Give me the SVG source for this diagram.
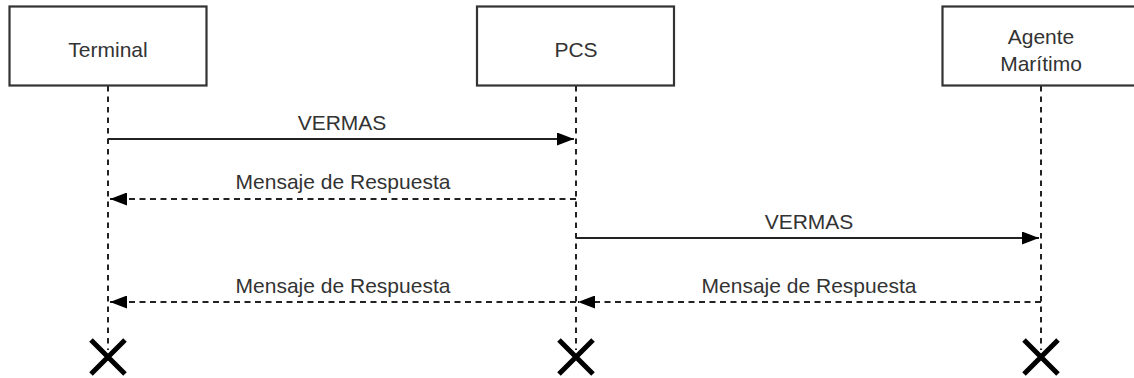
<svg xmlns="http://www.w3.org/2000/svg" width="1134" height="378" viewBox="0 0 1134 378">
<style>
.box{fill:#fff;stroke:#333;stroke-width:2.2}
.lbl{font-family:"Liberation Sans",Arial,sans-serif;font-size:21px;fill:#333;text-anchor:middle}
.life{stroke:#222;stroke-width:2;stroke-dasharray:5.5 5;fill:none}
.msg{stroke:#222;stroke-width:2;fill:none}
.ret{stroke:#222;stroke-width:2;stroke-dasharray:6 4.5;fill:none}
.x{stroke:#000;stroke-width:5;fill:none}
</style>
<defs>
<marker id="ah" viewBox="0 0 17 13" refX="17" refY="6.5" markerWidth="17" markerHeight="13" markerUnits="userSpaceOnUse" orient="auto">
<path d="M0,0 L17,6.5 L0,13 Z" fill="#000"/>
</marker>
</defs>
<g id="connectors">
<line class="life" x1="108" y1="86" x2="108" y2="350"/>
<line class="life" x1="576" y1="86" x2="576" y2="350"/>
<line class="life" x1="1041" y1="86" x2="1041" y2="350"/>
<line class="msg" x1="108" y1="139" x2="574" y2="139" marker-end="url(#ah)"/>
<text class="lbl" x="342" y="130">VERMAS</text>
<line class="ret" x1="576" y1="199" x2="110" y2="199" marker-end="url(#ah)"/>
<text class="lbl" x="343" y="189">Mensaje de Respuesta</text>
<line class="msg" x1="576" y1="238" x2="1039" y2="238" marker-end="url(#ah)"/>
<text class="lbl" x="809" y="229">VERMAS</text>
<line class="ret" x1="576" y1="302" x2="110" y2="302" marker-end="url(#ah)"/>
<text class="lbl" x="343" y="293">Mensaje de Respuesta</text>
<line class="ret" x1="1041" y1="302" x2="578" y2="302" marker-end="url(#ah)"/>
<text class="lbl" x="809" y="293">Mensaje de Respuesta</text>
</g>
<g id="terminal">
<rect class="box" x="9.5" y="6.5" width="197" height="79"/>
<text class="lbl" x="108" y="57">Terminal</text>
</g>
<g id="pcs">
<rect class="box" x="477" y="6.5" width="197" height="79"/>
<text class="lbl" x="576" y="57">PCS</text>
</g>
<g id="agente">
<rect class="box" x="942.5" y="6.5" width="197" height="79"/>
<text class="lbl" x="1041" y="44">Agente</text>
<text class="lbl" x="1041" y="71">Marítimo</text>
</g>
<g id="end-terminal"><path class="x" d="M91,340 L125,374 M125,340 L91,374"/></g>
<g id="end-pcs"><path class="x" d="M559,340 L593,374 M593,340 L559,374"/></g>
<g id="end-agente"><path class="x" d="M1024,340 L1058,374 M1058,340 L1024,374"/></g>
</svg>
